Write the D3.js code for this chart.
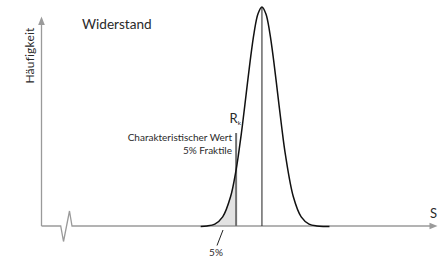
<!DOCTYPE html>
<html><head><meta charset="utf-8">
<script src="https://cdn.jsdelivr.net/npm/d3@7/dist/d3.min.js"></script>
<style>html,body{margin:0;padding:0;background:#fff;overflow:hidden}svg{display:block}text{font-family:Lato,"Open Sans",sans-serif;fill:#2a2a2a}</style>
</head><body>
<svg id="c" width="438" height="258"></svg>
<script>
// Data (S in standard-deviation units relative to mean, relative frequency)
const sValues  = [-3.9, -3.5, -3.0, -2.5, -2.0, -1.645, -1.5, -1.25, -1.0, -0.75, -0.5, -0.25, 0, 0.25, 0.5, 0.75, 1.0, 1.25, 1.5, 2.0, 2.5, 3.0, 3.5, 4.0, 4.3];
const freq     = [0.0005, 0.0022, 0.0111, 0.0439, 0.1353, 0.2585, 0.3247, 0.4578, 0.6065, 0.7548, 0.8825, 0.9692, 1, 0.9692, 0.8825, 0.7548, 0.6065, 0.4578, 0.3247, 0.1353, 0.0439, 0.0111, 0.0022, 0.0003, 0.0001];
const meanValue = 0;
const rkValue = -1.645;
const titleLabel = "Widerstand";
const yLabel = "Häufigkeit";
const xLabel = "S";
const rkLines = ["Charakteristischer Wert", "5% Fraktile"];
const pctLabel = "5%";

const svg = d3.select("#c");
const axisX0 = 41.5, axisY0 = 226;
const x = d3.scaleLinear().domain([-14.04, 11.15]).range([axisX0, 437]);
const y = d3.scaleLinear().domain([0, 1]).range([226.5, 7]);
const pts = sValues.map((s, i) => ({s, f: freq[i]}));

// shaded 5% area
const shade = pts.filter(d => d.s <= rkValue);
svg.append("path").datum(shade)
  .attr("d", d3.area().x(d => x(d.s)).y0(axisY0).y1(d => y(d.f)).curve(d3.curveCatmullRom))
  .attr("fill", "#e2e2e2");

// axes
const axisCol = "#9a9a9a";
svg.append("line").attr("x1", axisX0).attr("y1", axisY0).attr("x2", axisX0).attr("y2", 24)
  .attr("stroke", axisCol).attr("stroke-width", 1.3);
svg.append("path").attr("d", `M${axisX0},16.5 L${axisX0-3.3},25 L${axisX0+3.3},25 Z`).attr("fill", axisCol);
svg.append("path").attr("d", `M${axisX0},${axisY0} L60.7,${axisY0} L63.5,241.5 L69.5,211 L72,${axisY0} L431,${axisY0}`)
  .attr("fill", "none").attr("stroke", axisCol).attr("stroke-width", 1.3).attr("stroke-linejoin", "miter");
svg.append("path").attr("d", `M437.5,${axisY0} L429.5,${axisY0-3.2} L429.5,${axisY0+3.2} Z`).attr("fill", axisCol);

// Rk line
svg.append("line").attr("x1", x(rkValue)).attr("x2", x(rkValue)).attr("y1", 133).attr("y2", axisY0)
  .attr("stroke", "#707070").attr("stroke-width", 2);

// mean line
svg.append("line").attr("x1", x(meanValue)).attr("x2", x(meanValue)).attr("y1", y(1) + 1).attr("y2", axisY0)
  .attr("stroke", "#333").attr("stroke-width", 1.1);

// curve
svg.append("path").datum(pts)
  .attr("d", d3.line().x(d => x(d.s)).y(d => y(d.f)).curve(d3.curveCatmullRom))
  .attr("fill", "none").attr("stroke", "#111").attr("stroke-width", 1.5);

// texts
svg.append("text").attr("x", 82).attr("y", 29).attr("font-size", 13.6).text(titleLabel);
svg.append("text").attr("transform", "translate(34,55.5) rotate(-90)").attr("text-anchor", "middle")
  .attr("font-size", 12).attr("letter-spacing", 0.2).text(yLabel);
svg.append("text").attr("x", 430).attr("y", 218).attr("font-size", 13).text(xLabel);
const rk = svg.append("text").attr("x", 229.5).attr("y", 122.5).attr("font-size", 13);
rk.append("tspan").text("R");
rk.append("tspan").attr("font-size", 6.5).attr("dy", 2.5).text("k");
rkLines.forEach((t, i) => {
  svg.append("text").attr("x", 232).attr("y", 140.5 + i * 13).attr("text-anchor", "end").attr("font-size", 10).text(t);
});
svg.append("text").attr("x", 216).attr("y", 256).attr("text-anchor", "middle").attr("font-size", 10).text(pctLabel);
svg.append("line").attr("x1", 223).attr("y1", 230).attr("x2", 217).attr("y2", 245.5)
  .attr("stroke", "#222").attr("stroke-width", 1);
</script>
</body></html>
